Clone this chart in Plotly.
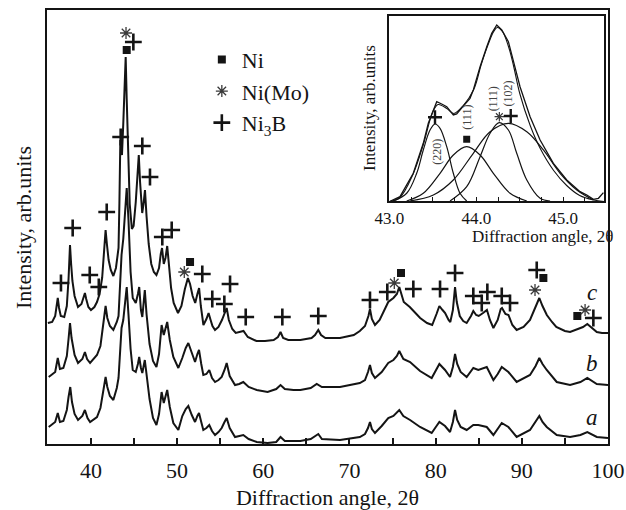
import plotly.graph_objects as go

# ---------------- main XRD patterns (2θ, intensity in arb. units) ----------------
c_2theta = [35.0, 35.5, 35.85, 36.05, 36.15, 36.3, 36.5, 36.9, 37.2, 37.4, 37.57, 37.7, 37.85, 38.1, 38.5,
            38.9, 39.15, 39.3, 39.45, 39.7, 40.0, 40.4, 40.7, 41.0, 41.3, 41.5, 41.7, 41.85, 42.05, 42.3,
            42.6, 42.9, 43.1, 43.2, 43.3, 43.41, 43.5, 43.6, 43.75, 43.9, 44.03, 44.15, 44.3, 44.5, 44.75,
            44.95, 45.2, 45.4, 45.55, 45.7, 45.85, 45.95, 46.1, 46.27, 46.45, 46.7, 47.0, 47.3, 47.6, 47.9,
            48.1, 48.25, 48.45, 48.65, 48.85, 49.05, 49.3, 49.6, 50.1, 50.5, 50.9, 51.25, 51.5, 51.8, 52.1,
            52.35, 52.55, 52.75, 53.05, 53.4, 53.65, 53.85, 54.1, 54.4, 54.8, 55.2, 55.5, 55.75, 56.0, 56.4,
            56.8, 57.2, 57.7, 58.2, 59.2, 60.2, 61.2, 61.7, 62.0, 62.3, 62.9, 64.3, 65.6, 66.0, 66.38,
            66.7, 67.2, 68.9, 70.5, 71.2, 71.8, 72.2, 72.38, 72.6, 72.96, 73.5, 74.0, 74.5, 75.1, 75.5,
            75.78, 76.0, 76.3, 77.0, 77.6, 78.2, 79.0, 79.6, 80.1, 80.43, 80.8, 81.1, 81.5, 81.7, 82.0,
            82.25, 82.45, 82.8, 83.2, 83.6, 84.1, 84.37, 84.7, 85.0, 85.5, 85.95, 86.3, 86.7, 87.2, 87.55,
            87.7, 88.1, 88.45, 88.9, 89.4, 90.2, 90.95, 91.6, 92.03, 92.4, 92.9, 93.5, 94.0, 95.0, 95.6,
            96.5, 97.1, 97.6, 98.0, 98.7, 99.3, 100.0]
c_int = [121, 122, 128, 140, 146, 136, 128, 127, 138, 165, 199, 180, 163, 148, 137,
         140, 146, 151, 145, 137, 134, 137, 142, 150, 166, 190, 214, 200, 184, 174,
         168, 176, 188, 196, 240, 304, 295, 289, 320, 360, 387, 345, 290, 240, 215,
         218, 242, 268, 289, 262, 238, 231, 240, 254, 228, 200, 180, 172, 169, 176,
         190, 196, 180, 186, 198, 178, 156, 141, 131, 138, 155, 166, 160, 148, 141,
         150, 156, 138, 119, 125, 131, 125, 118, 114, 117, 124, 130, 136, 124, 115,
         111, 112, 113, 107, 103, 103, 104, 107, 112, 106, 104, 104, 106, 109, 114,
         109, 106, 106, 109, 113, 118, 128, 135, 125, 119, 124, 133, 142, 146, 150,
         157, 150, 142, 137, 131, 126, 121, 119, 130, 138, 134, 131, 124, 122, 134,
         157, 142, 128, 123, 121, 128, 133, 129, 128, 131, 134, 124, 116, 124, 135,
         136, 130, 129, 119, 114, 117, 124, 137, 146, 138, 129, 122, 117, 113, 112,
         115, 117, 120, 117, 112, 111, 111]

b_2theta = [35.1, 35.85, 36.15, 36.4, 36.8, 37.2, 37.4, 37.57, 37.75, 38.1, 38.5, 39.0, 39.3, 39.55, 39.9,
            40.4, 40.7, 41.1, 41.4, 41.7, 41.9, 42.2, 42.6, 43.0, 43.2, 43.4, 43.55, 43.75, 44.0, 44.15,
            44.35, 44.6, 44.85, 45.2, 45.45, 45.6, 45.8, 45.96, 46.25, 46.45, 46.8, 47.2, 47.6, 47.9, 48.2,
            48.45, 48.85, 49.15, 49.56, 50.14, 50.6, 51.0, 51.3, 51.7, 52.08, 52.35, 52.54, 52.8, 53.04, 53.4,
            53.73, 54.05, 54.4, 54.8, 55.17, 55.5, 55.75, 56.1, 56.72, 57.2, 57.68, 58.3, 59.24, 60.5, 61.5,
            62.0, 62.5, 63.5, 64.3, 65.5, 66.2, 66.8, 68.9, 71.2, 71.8, 72.15, 72.38, 72.6, 72.96, 73.74,
            74.5, 75.1, 75.5, 75.78, 76.25, 77.03, 78.19, 79.54, 80.1, 80.43, 81.09, 81.67, 82.0, 82.25, 82.5,
            82.9, 83.6, 84.37, 84.95, 85.93, 86.7, 87.2, 87.67, 88.44, 89.4, 90.95, 91.6, 92.03, 92.4, 92.89,
            94.05, 95.6, 96.8, 97.6, 98.7, 100.0]
b_int = [67, 72, 86, 75, 76, 88, 105, 121, 106, 89, 81, 85, 92, 85, 81,
         86, 89, 98, 118, 138, 126, 118, 114, 122, 128, 160, 189, 205, 238, 256,
         225, 172, 146, 141, 150, 157, 134, 127, 154, 130, 100, 83, 77, 90, 119,
         109, 122, 104, 87, 76, 86, 96, 101, 92, 82, 90, 94, 80, 69, 70,
         74, 66, 62, 64, 67, 74, 81, 68, 59, 60, 62, 57, 54, 52, 55,
         59, 55, 54, 54, 56, 60, 57, 57, 61, 64, 72, 79, 71, 66, 72,
         81, 84, 88, 93, 85, 82, 73, 66, 75, 80, 74, 67, 77, 90, 80,
         72, 67, 76, 74, 77, 64, 70, 77, 72, 62, 69, 78, 86, 80, 74,
         62, 59, 62, 66, 60, 59]

a_2theta = [35.1, 35.85, 36.15, 36.4, 36.8, 37.2, 37.4, 37.6, 37.8, 38.1, 38.5, 39.0, 39.3, 39.6, 39.9,
            40.4, 40.7, 41.1, 41.4, 41.7, 41.9, 42.2, 42.6, 43.0, 43.2, 43.4, 43.55, 43.75, 44.0, 44.15,
            44.35, 44.6, 44.85, 45.2, 45.45, 45.6, 45.8, 45.96, 46.25, 46.5, 46.8, 47.2, 47.6, 47.9, 48.2,
            48.45, 48.85, 49.15, 49.56, 50.14, 50.6, 51.0, 51.3, 51.7, 52.08, 52.35, 52.54, 52.8, 53.04, 53.4,
            53.73, 54.05, 54.4, 54.8, 55.17, 55.5, 55.75, 56.1, 56.72, 57.68, 58.3, 59.24, 60.5, 61.5, 62.0,
            62.5, 64.3, 65.5, 66.38, 66.8, 68.9, 71.2, 71.8, 72.15, 72.38, 72.6, 72.96, 73.74, 74.5, 75.1,
            75.5, 75.78, 76.25, 77.03, 78.19, 79.54, 80.1, 80.43, 81.09, 81.67, 82.0, 82.25, 82.5, 82.9, 83.6,
            84.37, 84.95, 85.93, 86.7, 87.2, 87.67, 88.44, 89.4, 90.95, 91.6, 92.03, 92.4, 92.89, 94.05, 95.6,
            96.8, 97.6, 98.7, 100.0]
a_int = [17, 22, 31, 22, 23, 34, 47, 57, 42, 30, 24, 28, 34, 26, 22,
         25, 27, 36, 52, 67, 57, 48, 44, 56, 66, 100, 116, 124, 148, 157,
         130, 95, 74, 72, 80, 87, 76, 71, 84, 65, 45, 26, 19, 30, 52,
         41, 54, 37, 21, 14, 28, 35, 38, 29, 22, 28, 31, 22, 14, 16,
         19, 13, 9, 12, 16, 22, 26, 16, 7, 9, 5, 2, 1, 2, 7,
         3, 3, 5, 10, 5, 4, 7, 10, 16, 22, 15, 11, 18, 26, 28,
         31, 34, 28, 24, 17, 11, 18, 22, 18, 12, 22, 34, 24, 17, 14,
         19, 19, 17, 9, 15, 21, 17, 7, 14, 22, 28, 22, 17, 9, 7,
         9, 12, 7, 6]

# phase markers on the main patterns
ni_2theta = [44.15, 51.50, 75.98, 92.50, 96.44]
ni_int = [394, 182, 171, 166, 128]
nimo_2theta = [44.07, 50.83, 75.20, 91.53, 97.34]
nimo_int = [411, 172, 161, 154, 134]
ni3b_2theta = [44.92, 43.45, 45.96, 46.85, 41.83, 37.88, 48.28, 49.37, 36.52, 39.86, 40.91, 52.92, 56.14,
               54.08, 55.48, 57.96, 62.21, 66.38, 72.38, 74.39, 77.41, 80.51, 82.25, 84.37, 85.35, 86.0,
               87.67, 88.63, 91.73, 98.30]
ni3b_int = [402, 307, 298, 267, 232, 216, 207, 214, 161, 169, 157, 170, 160,
            145, 140, 127, 127, 128, 144, 152, 155, 155, 171, 148, 141, 152,
            148, 141, 174, 126]

# ---------------- inset: deconvolution of the 43-45.5° region ----------------
exp_2theta = [43.0, 43.121, 43.274, 43.389, 43.447, 43.505, 43.544, 43.601, 43.659, 43.735, 43.774, 43.85,
              43.927, 43.965, 44.043, 44.12, 44.177, 44.235, 44.293, 44.369, 44.426, 44.503, 44.619, 44.734,
              44.887, 45.041, 45.194, 45.272, 45.348, 45.406, 45.463]
exp_int = [0, 4.8, 28.2, 58.2, 78.2, 91.5, 99.8, 97.5, 94.8, 86.5, 87.5, 95.5,
           103.2, 111.5, 134.8, 154.8, 168.2, 176.5, 171.5, 159.8, 141.5, 114.8, 84.8, 61.5,
           38.2, 21.5, 9.8, 6.5, 2.2, 3.2, 8.8]
fit_2theta = [43.0, 43.12, 43.27, 43.39, 43.5, 43.56, 43.66, 43.74, 43.85, 43.97, 44.06, 44.14, 44.2, 44.24,
              44.3, 44.37, 44.43, 44.5, 44.62, 44.73, 44.89, 45.04, 45.19, 45.35, 45.47]
fit_int = [0, 4, 27, 57, 90, 97, 93, 88, 96, 112, 138, 158, 170, 174,
           170, 155, 135, 108, 76, 54, 31, 16, 6, 1.5, 0]
p220_2theta = [43.044, 43.198, 43.313, 43.389, 43.467, 43.524, 43.582, 43.659, 43.735, 43.812, 43.889]
p220_int = [0.5, 8.2, 28.2, 51.5, 71.5, 77.5, 73.2, 54.8, 28.2, 8.2, 0.5]
pni111_2theta = [43.198, 43.389, 43.582, 43.735, 43.889, 44.043, 44.196, 44.388, 44.581]
pni111_int = [0.5, 8.2, 28.2, 46.5, 54.8, 46.5, 28.2, 8.2, 0.5]
pnimo111_2theta = [43.697, 43.889, 44.043, 44.158, 44.262, 44.369, 44.465, 44.581, 44.734, 44.849]
pnimo111_int = [0.5, 14.8, 44.8, 68.2, 78.8, 71.5, 48.2, 21.5, 3.2, 0.5]
p102_2theta = [43.236, 43.505, 43.735, 43.965, 44.158, 44.369, 44.581, 44.772, 44.964, 45.157, 45.348]
p102_int = [0.5, 6.5, 21.5, 48.2, 69.8, 78.2, 69.8, 51.5, 28.2, 11.5, 1.5]

inset_ni_pos = ([43.889], [62.2])
inset_nimo_pos = ([44.265], [84.8])
inset_ni3b_pos = ([43.524, 44.396], [84.2, 85.5])

hkl_labels = ["(220)", "(111)", "(111)", "(102)"]
hkl_2theta = [43.544, 43.889, 44.196, 44.369]
hkl_int = [49.5, 84.5, 102.5, 108.5]

main_ticks = [40, 45, 50, 55, 60, 65, 70, 75, 80, 85, 90, 95, 100]
main_ticktext = ["40", "", "50", "", "60", "", "70", "", "80", "", "90", "", "100"]
inset_ticks = [43.0, 43.25, 43.5, 43.75, 44.0, 44.25, 44.5, 44.75, 45.0, 45.25]
inset_ticktext = ["43.0", "", "", "", "44.0", "", "", "", "45.0", ""]

SERIF = "Liberation Serif, Times New Roman, serif"
INK = "#141414"
GREY = "#3a3a3a"

fig = go.Figure()

for xs, ys in [(a_2theta, a_int), (b_2theta, b_int), (c_2theta, c_int)]:
    fig.add_trace(go.Scatter(x=xs, y=ys, mode="lines", showlegend=False,
                             line=dict(color=INK, width=2)))

sq = dict(symbol="square", size=8, color=INK)
ast = dict(symbol="asterisk-open", size=10, color=GREY, line=dict(color=GREY, width=1.3))
crs = dict(symbol="cross-thin-open", size=12, color=INK, line=dict(color=INK, width=2.6))

fig.add_trace(go.Scatter(x=ni_2theta, y=ni_int, mode="markers", name="Ni", marker=sq))
fig.add_trace(go.Scatter(x=nimo_2theta, y=nimo_int, mode="markers", name="Ni(Mo)", marker=ast))
fig.add_trace(go.Scatter(x=ni3b_2theta, y=ni3b_int, mode="markers", name="Ni<sub>3</sub>B", marker=crs))

# inset curves
fig.add_trace(go.Scatter(x=exp_2theta, y=exp_int, mode="lines", xaxis="x2", yaxis="y2",
                         showlegend=False, line=dict(color=INK, width=1.3)))
fig.add_trace(go.Scatter(x=fit_2theta, y=fit_int, mode="lines", xaxis="x2", yaxis="y2",
                         showlegend=False, line=dict(color=INK, width=1.1, shape="spline")))
for xs, ys in [(p220_2theta, p220_int), (pni111_2theta, pni111_int),
               (pnimo111_2theta, pnimo111_int), (p102_2theta, p102_int)]:
    fig.add_trace(go.Scatter(x=xs, y=ys, mode="lines", xaxis="x2", yaxis="y2",
                             showlegend=False, line=dict(color=INK, width=1.2, shape="spline")))

fig.add_trace(go.Scatter(x=inset_ni_pos[0], y=inset_ni_pos[1], mode="markers", xaxis="x2", yaxis="y2",
                         showlegend=False, marker=dict(symbol="square", size=7, color=INK)))
fig.add_trace(go.Scatter(x=inset_nimo_pos[0], y=inset_nimo_pos[1], mode="markers", xaxis="x2", yaxis="y2",
                         showlegend=False, marker=dict(symbol="asterisk-open", size=8, color=GREY,
                                                       line=dict(color=GREY, width=1.2))))
fig.add_trace(go.Scatter(x=inset_ni3b_pos[0], y=inset_ni3b_pos[1], mode="markers", xaxis="x2", yaxis="y2",
                         showlegend=False, marker=dict(symbol="cross-thin-open", size=10, color=INK,
                                                       line=dict(color=INK, width=2.4))))

annotations = []
for txt, xv, yv in zip(hkl_labels, hkl_2theta, hkl_int):
    annotations.append(dict(text=txt, x=xv, y=yv, xref="x2", yref="y2", showarrow=False,
                            xanchor="center", yanchor="middle",
                            textangle=-90, font=dict(family=SERIF, size=12, color="#444")))

# curve letters
for txt, yv in [("c", 152), ("b", 81), ("a", 27)]:
    annotations.append(dict(text="<i>%s</i>" % txt, x=98.1, y=yv, xref="x", yref="y", showarrow=False,
                            xanchor="center", yanchor="middle",
                            font=dict(family=SERIF, size=23, color=INK)))

# main y-axis title, set a little closer to the frame than the automatic title position
annotations.append(dict(text="Intensity, arb.units", x=-0.0428, y=0.5, xref="paper", yref="paper",
                        xanchor="center", yanchor="middle",
                        showarrow=False, textangle=-90, font=dict(family=SERIF, size=22, color=INK)))

# inset axis titles
annotations.append(dict(text="Intensity, arb.units", x=0.5758, y=0.7742, xref="paper", yref="paper",
                        xanchor="center", yanchor="middle",
                        showarrow=False, textangle=-90, font=dict(family=SERIF, size=17, color=INK)))
annotations.append(dict(text="Diffraction angle, 2θ", x=0.884, y=0.4770, xref="paper", yref="paper",
                        xanchor="center", yanchor="middle",
                        showarrow=False, font=dict(family=SERIF, size=17, color=INK)))

axis_common = dict(showline=True, linecolor=INK, mirror=True, showgrid=False, zeroline=False,
                   automargin=False)

fig.update_layout(
    width=626, height=510,
    margin=dict(l=47, r=18, t=10, b=66),
    paper_bgcolor="white", plot_bgcolor="white",
    font=dict(family=SERIF, color=INK),
    xaxis=dict(range=[34.9, 100.0], tickvals=main_ticks, ticktext=main_ticktext,
               ticks="inside", ticklen=6, tickwidth=1.5, tickcolor=INK, linewidth=2,
               tickfont=dict(family=SERIF, size=22), ticklabelstandoff=6,
               title=dict(text="Diffraction angle, 2θ", font=dict(family=SERIF, size=22), standoff=15),
               **axis_common),
    yaxis=dict(range=[0, 434], showticklabels=False, ticks="", linewidth=2, **axis_common),
    xaxis2=dict(domain=[0.6105, 0.9929], anchor="y2", range=[43.0, 45.47],
                tickvals=inset_ticks, ticktext=inset_ticktext, ticks="inside", ticklen=5,
                tickwidth=1, tickcolor=INK, linewidth=1.5,
                tickfont=dict(family=SERIF, size=17), **axis_common),
    yaxis2=dict(domain=[0.5588, 0.9873], anchor="x2", range=[0, 186], showticklabels=False,
                ticks="", linewidth=1.5, **axis_common),
    legend=dict(x=0.276, y=0.934, xanchor="left", yanchor="top", bgcolor="rgba(0,0,0,0)",
                font=dict(family=SERIF, size=22, color=INK), itemsizing="trace",
                tracegroupgap=0),
    annotations=annotations,
)

fig.write_html("out.html")
